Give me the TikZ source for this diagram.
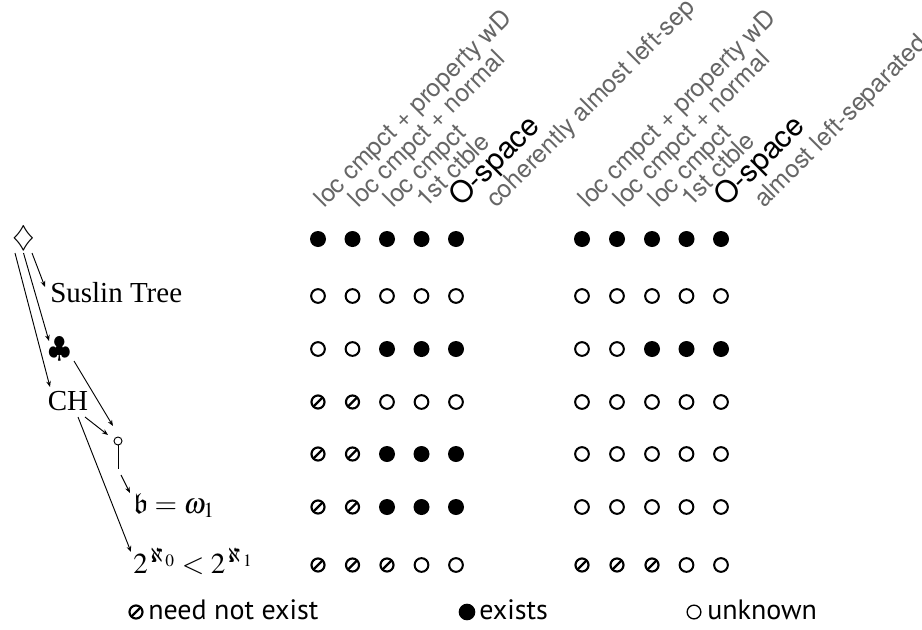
\documentclass[tikz,border=0pt]{standalone}
\usepackage{mathptmx}
\usepackage{amssymb}
\usepackage{fontspec}
\setmainfont{Liberation Serif}
\newfontfamily\hvfont{TeX Gyre Heros}
\newfontfamily\lgfont{PT Sans}
\usetikzlibrary{arrows.meta}
\definecolor{lblgray}{gray}{0.4}
\tikzset{
  dotbase/.style={circle, inner sep=0pt, outer sep=0pt},
  yes/.style={dotbase, fill=black, minimum size=12pt},
  unk/.style={dotbase, draw=black, line width=1.5pt, minimum size=10.3pt},
  nne/.style={dotbase, draw=black, line width=1.6pt, minimum size=9.8pt,
    path picture={\draw[line width=1.7pt] (path picture bounding box.south west) -- (path picture bounding box.north east);}},
  hdr/.style={anchor=base west, rotate=45, inner sep=0pt, text=lblgray, font=\hvfont\fontsize{18.6}{22}\selectfont},
  hdrO/.style={hdr, text=black, font=\hvfont\fontsize{22.5}{26}\selectfont},
  lbl/.style={inner sep=0pt, font=\fontsize{21.75}{26}\selectfont},
  lgd/.style={anchor=base west, inner sep=0pt, font=\lgfont\fontsize{21}{24}\selectfont},
  arr/.style={-{Stealth[length=4.5pt,width=3.5pt]}, line width=0.7pt},
}
\begin{document}
\begin{tikzpicture}[x=0.75pt,y=-0.75pt]
\useasboundingbox (0,0) rectangle (922,629);

% ---------- headers, left grid
\node[hdr]  (hl1) at (324,209) {loc cmpct + property wD};
\node[hdr]  (hl2) at (358.5,209) {loc cmpct + normal};
\node[hdr]  (hl3) at (393,209) {loc cmpct};
\node[hdr]  (hl4) at (426,209) {1st ctble};
\node[hdrO] (hl5) at (461,208) {O-space};
\node[hdr]  (hl6) at (496,209) {coherently almost left-sep};
% ---------- headers, right grid
\node[hdr]  (hr1) at (588,209) {loc cmpct + property wD};
\node[hdr]  (hr2) at (623,209) {loc cmpct + normal};
\node[hdr]  (hr3) at (658,209) {loc cmpct};
\node[hdr]  (hr4) at (691,208) {1st ctble};
\node[hdrO] (hr5) at (726,208) {O-space};
\node[hdr]  (hr6) at (764,209) {almost left-separated};

% ---------- left grid
\foreach \r/\y/\A/\B/\C/\D/\E in {
  1/239/yes/yes/yes/yes/yes,
  2/296/unk/unk/unk/unk/unk,
  3/349/unk/unk/yes/yes/yes,
  4/402/nne/nne/unk/unk/unk,
  5/454/nne/nne/yes/yes/yes,
  6/507/nne/nne/yes/yes/yes,
  7/565/nne/nne/nne/unk/unk}{
  \node[\A] (L\r a) at (318,\y) {};
  \node[\B] (L\r b) at (352.5,\y) {};
  \node[\C] (L\r c) at (387,\y) {};
  \node[\D] (L\r d) at (421.5,\y) {};
  \node[\E] (L\r e) at (456,\y) {};
}
% ---------- right grid
\foreach \r/\y/\A/\B/\C/\D/\E in {
  1/239/yes/yes/yes/yes/yes,
  2/296/unk/unk/unk/unk/unk,
  3/349/unk/unk/yes/yes/yes,
  4/402/unk/unk/unk/unk/unk,
  5/454/unk/unk/unk/unk/unk,
  6/507/unk/unk/unk/unk/unk,
  7/565/nne/nne/nne/unk/unk}{
  \node[\A] (R\r a) at (582,\y) {};
  \node[\B] (R\r b) at (617,\y) {};
  \node[\C] (R\r c) at (652,\y) {};
  \node[\D] (R\r d) at (686.5,\y) {};
  \node[\E] (R\r e) at (721,\y) {};
}

% ---------- left diagram
\node[lbl] (dia) at (23.5,238) {$\diamondsuit$};
\node[lbl, anchor=base west] (sus) at (50,302) {Suslin Tree};
\node[lbl] (club) at (60,349) {$\clubsuit$};
\node[lbl] (ch) at (68,401) {CH};
\node[circle, draw, line width=0.7pt, inner sep=0pt, minimum size=6pt] (stk) at (118,441) {};
\coordinate (stkb) at (118,469);
\draw[line width=0.7pt] (stk.south) -- (stkb);
\node[lbl, anchor=base west] (bw) at (133,513) {$\mathfrak{b}=\omega_1$};
\node[lbl, anchor=base west] (ineq) at (133,573) {$2^{\aleph_0}<2^{\aleph_1}$};

\draw[arr] ([shift={(8.5,15)}]dia.center) -- ([shift={(-5,-15)}]sus.base west);
\draw[arr] ([shift={(0,15)}]dia.center) -- ([shift={(-11,-8)}]club.center);
\draw[arr] ([shift={(-8.5,15)}]dia.center) -- ([shift={(-18,-14)}]ch.center);
\draw[arr] ([shift={(14,12)}]club.center) -- ([shift={(-5,-15)}]stk.center);
\draw[arr] ([shift={(17,16)}]ch.center) -- ([shift={(-10,-6)}]stk.center);
\draw[arr] ([shift={(3,6)}]stkb) -- ([shift={(-3,-20)}]bw.base west);
\draw[arr] ([shift={(10,16)}]ch.center) -- ([shift={(-2,-21)}]ineq.base west);

% ---------- legend
\node[nne, minimum size=9.8pt] (k1) at (136,612) {};
\node[lgd] (t1) at (148,619) {need not exist};
\node[yes, minimum size=12.5pt] (k2) at (467,612) {};
\node[lgd] (t2) at (479,619) {exists};
\node[unk, line width=1pt, minimum size=10.3pt] (k3) at (694,612) {};
\node[lgd] (t3) at (707,619) {unknown};
\end{tikzpicture}
\end{document}
